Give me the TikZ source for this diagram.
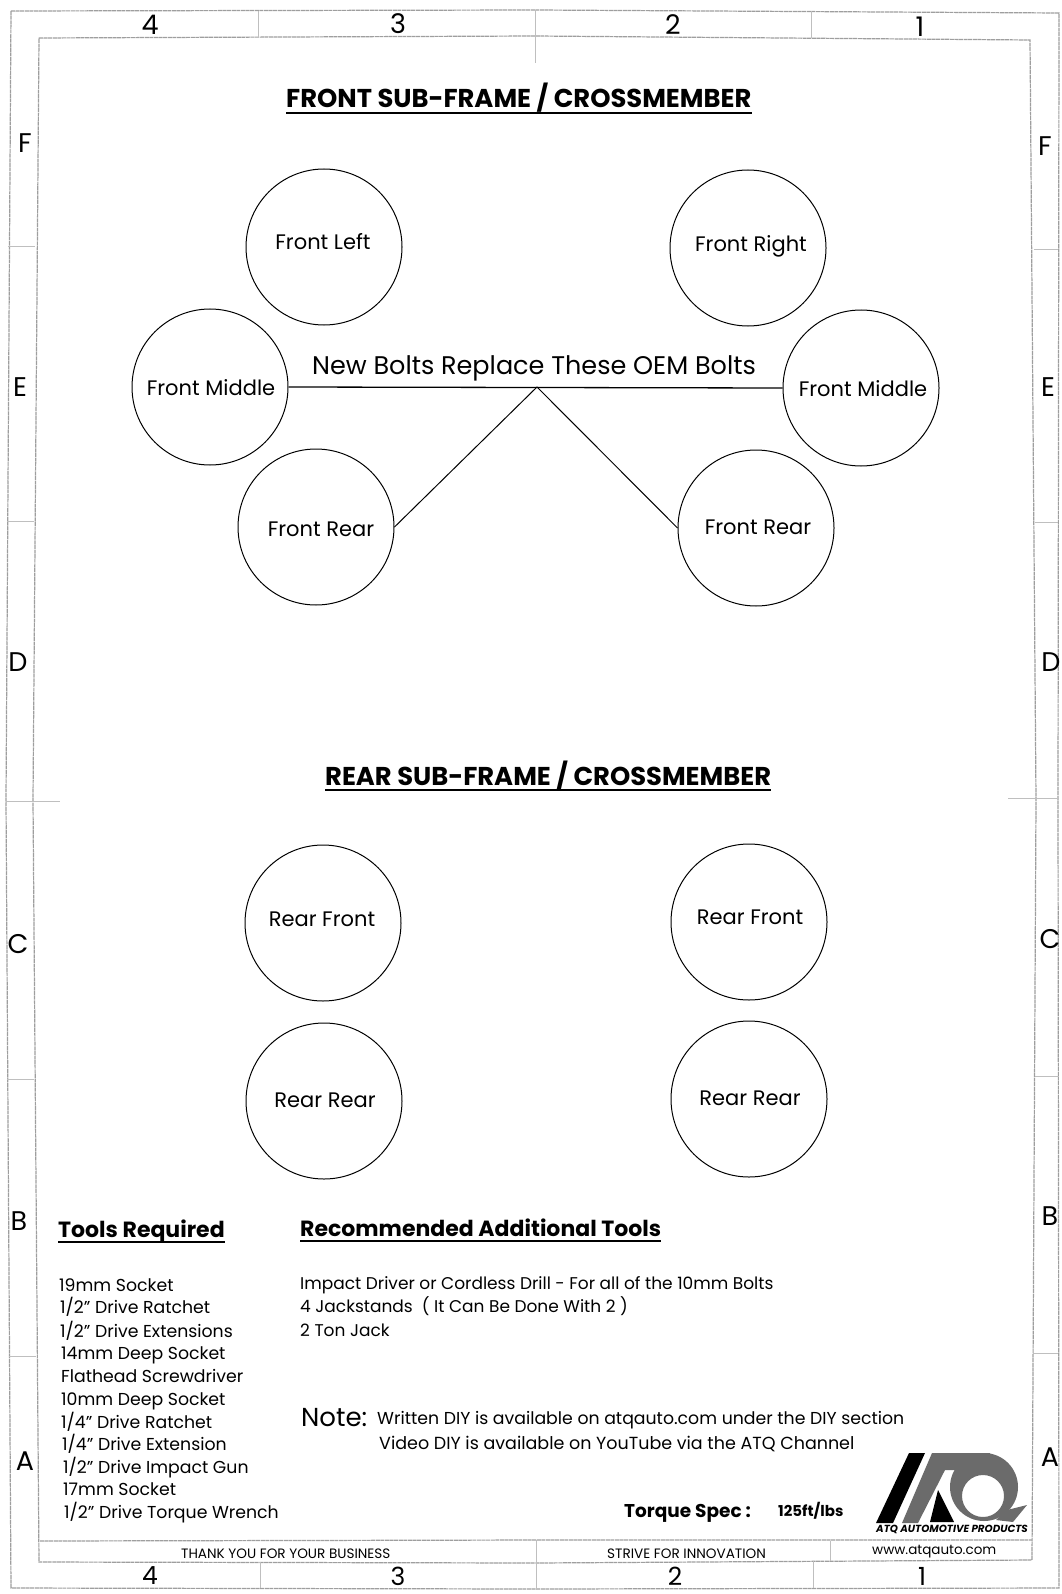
\documentclass[tikz,border=0pt]{standalone}
\usepackage{fontspec}
\setmainfont{Poppins}
\usetikzlibrary{calc, positioning}
\tikzset{
    x=1pt, y=-1pt,
    bolt/.style={circle, draw, line width=1pt, minimum size=156pt, inner sep=0pt},
    boltlabel/.style={font=\fontsize{21}{24}\selectfont},
    sheettitle/.style={anchor=base west, inner sep=0pt, text depth=5pt, font=\fontsize{25.8}{28}\selectfont\bfseries},
    toolstitle/.style={anchor=base west, inner sep=0pt, text depth=5pt, font=\fontsize{22}{24}\selectfont\bfseries},
    titlerule/.style={line width=2pt},
    tool/.style={anchor=base west, inner sep=0pt, font=\fontsize{17.3}{20}\selectfont},
    extra/.style={anchor=base west, inner sep=0pt, font=\fontsize{17}{20}\selectfont},
    grid/.style={font=\fontsize{27}{30}\selectfont},
    lowgrid/.style={font=\fontsize{25}{28}\selectfont},
    foot/.style={anchor=base west, inner sep=0pt, font=\fontsize{13.6}{15}\selectfont},
    frameline/.style={draw=black!38, line width=1.2pt, dash pattern=on 4pt off 0.6pt},
    tickline/.style={draw=black!25, line width=0.6pt},
    logogray/.style={fill=black!58, draw=none},
}
\begin{document}
\begin{tikzpicture}
    \useasboundingbox (0, 0) rectangle (1061, 1594);

    % sheet frame
    \draw[frameline] (11, 11) -- (535, 10) -- (1059, 13) -- (1058, 800) -- (1059, 1588) -- (535, 1589) -- (11, 1588) -- (6, 800) -- cycle;
    \draw[frameline] (39, 38) -- (535, 36) -- (1030, 40) -- (1036, 800) -- (1032, 1560) -- (535, 1563) -- (39, 1562) -- (33, 800) -- cycle;
    \draw[frameline] (40, 1541) -- (535, 1540) -- (1032, 1540);
    % zone ticks
    \draw[tickline] (258, 11) -- (258, 37) (535, 10) -- (535, 63) (811, 11) -- (811, 38);
    \draw[tickline] (260, 1562) -- (260, 1588) (536, 1540) -- (536, 1589) (813, 1561) -- (813, 1588) (830, 1541) -- (830, 1561);
    \draw[tickline] (8, 246) -- (35, 246) (7, 521) -- (34, 521) (6, 801) -- (60, 801) (7, 1079) -- (34, 1079) (9, 1356) -- (36, 1356);
    \draw[tickline] (1034, 249) -- (1058, 249) (1035, 522) -- (1058, 522) (1008, 798) -- (1058, 798) (1035, 1076) -- (1058, 1076) (1033, 1353) -- (1058, 1353);

    % zone letters
    \node[grid] (top4) at (150, 25) {4};
    \node[grid] (top3) at (398, 24) {3};
    \node[grid] (top2) at (673, 25) {2};
    \node[grid] (top1) at (920, 27) {1};
    \node[lowgrid] (bottom4) at (150, 1576) {4};
    \node[lowgrid] (bottom3) at (398, 1576) {3};
    \node[lowgrid] (bottom2) at (675, 1576) {2};
    \node[lowgrid] (bottom1) at (922, 1576) {1};
    \node[grid] (leftF) at (25, 143) {F};
    \node[grid] (leftE) at (20, 387) {E};
    \node[grid] (leftD) at (18, 662) {D};
    \node[grid] (leftC) at (18, 944) {C};
    \node[grid] (leftB) at (19, 1221) {B};
    \node[grid] (leftA) at (25, 1461) {A};
    \node[grid] (rightF) at (1045, 146) {F};
    \node[grid] (rightE) at (1048, 387) {E};
    \node[grid] (rightD) at (1051, 662) {D};
    \node[grid] (rightC) at (1050, 939) {C};
    \node[grid] (rightB) at (1050, 1216) {B};
    \node[grid] (rightA) at (1050, 1457) {A};

    % front
    \node[sheettitle] (fronttitle) at (286, 108) {FRONT SUB-FRAME / CROSSMEMBER};
    \draw[titlerule] (fronttitle.south west) -- (fronttitle.south east);
    \node[bolt] (frontleft) at (324, 247) {};
    \node[bolt] (frontright) at (748, 248) {};
    \node[bolt] (middleleft) at (210, 387) {};
    \node[bolt] (middleright) at (861, 388) {};
    \node[bolt] (rearleft) at (316, 527) {};
    \node[bolt] (rearright) at (756, 528) {};
    \node[boltlabel] (frontleftlabel) at ($(frontleft) + (-1, -5)$) {Front Left};
    \node[boltlabel] (frontrightlabel) at ($(frontright) + (3, -2)$) {Front Right};
    \node[boltlabel] (middleleftlabel) at ($(middleleft) + (1, 1)$) {Front Middle};
    \node[boltlabel] (middlerightlabel) at ($(middleright) + (2, 1)$) {Front Middle};
    \node[boltlabel] (rearleftlabel) at ($(rearleft) + (5, 2)$) {Front Rear};
    \node[boltlabel] (rearrightlabel) at ($(rearright) + (2, -1)$) {Front Rear};
    \node[anchor=base, inner sep=0pt, font=\fontsize{25.5}{28}\selectfont] (newbolts) at (534, 374) {New Bolts Replace These OEM Bolts};
    \coordinate (hub) at (537, 387);
    \draw[line width=1.3pt] (middleleft.east) -- (middleright.west);
    \draw[line width=1pt] (rearleft.east) -- (hub) -- (rearright.west);

    % rear
    \node[sheettitle] (reartitle) at (325, 785) {REAR SUB-FRAME / CROSSMEMBER};
    \draw[titlerule] (reartitle.south west) -- (reartitle.south east);
    \node[bolt] (rearfrontleft) at (323, 923) {};
    \node[bolt] (rearfrontright) at (749, 922) {};
    \node[bolt] (rearrearleft) at (324, 1101) {};
    \node[bolt] (rearrearright) at (749, 1099) {};
    \node[boltlabel] (rearfrontleftlabel) at ($(rearfrontleft) + (-1, -4)$) {Rear Front};
    \node[boltlabel] (rearfrontrightlabel) at ($(rearfrontright) + (1, -5)$) {Rear Front};
    \node[boltlabel] (rearrearleftlabel) at ($(rearrearleft) + (1, -1)$) {Rear Rear};
    \node[boltlabel] (rearrearrightlabel) at ($(rearrearright) + (1, -1)$) {Rear Rear};

    % tools
    \node[toolstitle] (toolstitle) at (58, 1237) {Tools Required};
    \draw[titlerule] (toolstitle.south west) -- (toolstitle.south east);
    \node[tool] (tool1) at (59, 1291) {19mm Socket};
    \node[tool] (tool2) at (60, 1313) {1/2" Drive Ratchet};
    \node[tool] (tool3) at (60, 1337) {1/2" Drive Extensions};
    \node[tool] (tool4) at (61, 1359) {14mm Deep Socket};
    \node[tool] (tool5) at (61, 1382) {Flathead Screwdriver};
    \node[tool] (tool6) at (61, 1405) {10mm Deep Socket};
    \node[tool] (tool7) at (61, 1428) {1/4" Drive Ratchet};
    \node[tool] (tool8) at (62, 1450) {1/4" Drive Extension};
    \node[tool] (tool9) at (63, 1473) {1/2" Drive Impact Gun};
    \node[tool] (tool10) at (63, 1495) {17mm Socket};
    \node[tool] (tool11) at (64, 1518) {1/2" Drive Torque Wrench};

    \node[toolstitle] (extratitle) at (300, 1236) {Recommended Additional Tools};
    \draw[titlerule] (extratitle.south west) -- (extratitle.south east);
    \node[extra] (extra1) at (300, 1289) {Impact Driver or Cordless Drill - For all of the 10mm Bolts};
    \node[extra] (extra2) at (300, 1312) {4 Jackstands\ \ ( It Can Be Done With 2 )};
    \node[extra] (extra3) at (300, 1336) {2 Ton Jack};

    \node[tool, font=\fontsize{26}{30}\selectfont] (note) at (301, 1426) {Note:};
    \node[tool] (written) at (377, 1424) {Written DIY is available on atqauto.com under the DIY section};
    \node[tool, font=\fontsize{17.5}{20}\selectfont] (video) at (379, 1449) {Video DIY is available on YouTube via the ATQ Channel};

    \node[tool, font=\fontsize{18.5}{22}\selectfont\bfseries] (torque) at (624, 1517) {Torque Spec :};
    \node[tool, font=\fontsize{15}{16}\selectfont\bfseries] (torquevalue) at (778, 1516) {125ft/lbs};

    % footer
    \node[foot] (thanks) at (181, 1558) {THANK YOU FOR YOUR BUSINESS};
    \node[foot] (strive) at (607, 1558) {STRIVE FOR INNOVATION};
    \node[foot, font=\fontsize{13.5}{16}\selectfont] (website) at (872, 1554) {www.atqauto.com};

    % logo
    \fill[black] (876, 1523) -- (893, 1523) -- (925, 1453) -- (909, 1453) -- cycle;
    \fill[logogray] (932, 1453) -- (990, 1453) -- (990, 1470) -- (945, 1470) -- (918, 1523) -- (902, 1523) -- cycle;
    \fill[logogray, even odd rule] (984, 1487) circle (34) (983, 1496) circle (21);
    \fill[logogray] (1007, 1510) -- (1027, 1505) -- (1013, 1522) -- (996, 1520) -- cycle;
    \fill[black] (938, 1490) -- (954, 1522) -- (930, 1522) -- cycle;
    \node[foot, font=\fontsize{10.3}{12}\selectfont\bfseries\itshape] (logotext) at (876, 1532) {ATQ AUTOMOTIVE PRODUCTS};
\end{tikzpicture}
\end{document}
